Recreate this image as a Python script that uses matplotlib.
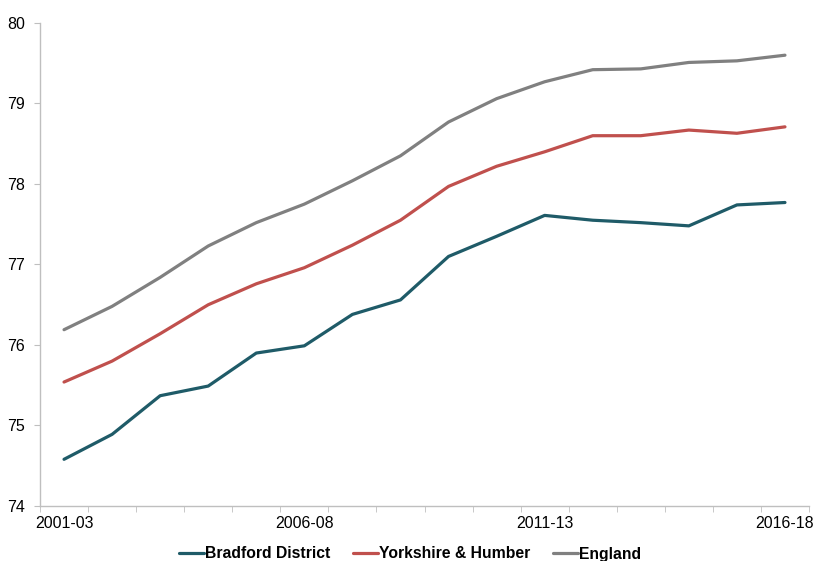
import matplotlib
matplotlib.use("Agg")
import matplotlib.pyplot as plt
import numpy as np

periods = ["2001-03", "2002-04", "2003-05", "2004-06", "2005-07", "2006-08", "2007-09", "2008-10",
           "2009-11", "2010-12", "2011-13", "2012-14", "2013-15", "2014-16", "2015-17", "2016-18"]
bradford = [74.58, 74.89, 75.37, 75.49, 75.90, 75.99, 76.38, 76.56,
            77.10, 77.35, 77.61, 77.55, 77.52, 77.48, 77.74, 77.77]
yorkshire = [75.54, 75.80, 76.14, 76.50, 76.76, 76.96, 77.24, 77.55,
             77.97, 78.22, 78.40, 78.60, 78.60, 78.67, 78.63, 78.71]
england = [76.19, 76.48, 76.84, 77.23, 77.52, 77.75, 78.04, 78.35,
           78.77, 79.06, 79.27, 79.42, 79.43, 79.51, 79.53, 79.60]
label_every = 5

plt.rcParams['font.family'] = ['Liberation Sans', 'DejaVu Sans']

fig = plt.figure(figsize=(8.13, 5.61), dpi=100)
ax = fig.add_axes([40/813, 1-506/561, 769/813, (506-23)/561])

x = np.arange(len(periods))
ax.plot(x, bradford, color="#1F5B68", lw=2.3, label="Bradford District", solid_capstyle='round')
ax.plot(x, yorkshire, color="#C0504D", lw=2.3, label="Yorkshire & Humber", solid_capstyle='round')
ax.plot(x, england, color="#808080", lw=2.3, label="England", solid_capstyle='round')

ax.set_xlim(-0.5, len(periods) - 0.5)
ax.set_ylim(74, 80)
ax.set_yticks(range(74, 81))
ax.set_xticks(x[::label_every])
ax.set_xticklabels([periods[i] for i in x[::label_every]])
ax.set_xticks(np.arange(-0.5, len(periods)), minor=True)
ax.tick_params(axis='x', which='major', length=0, pad=7, labelsize=11.5, colors='#000000')
ax.tick_params(axis='x', which='minor', length=4, color='#BFBFBF', direction='out')
ax.tick_params(axis='y', which='major', length=4, color='#BFBFBF', direction='out', labelsize=11.5, pad=7)

for s in ['top', 'right']:
    ax.spines[s].set_visible(False)
for s in ['left', 'bottom']:
    ax.spines[s].set_color('#BFBFBF')
    ax.spines[s].set_linewidth(1.0)

leg = fig.legend(loc='center', bbox_to_anchor=(0.504, 1 - 554/561), ncol=3, frameon=False,
                 prop={'weight': 'bold', 'size': 11.3}, handlelength=1.6, handletextpad=0.05,
                 columnspacing=1.45, borderpad=0.2)

fig.savefig("out.png", dpi=100)
